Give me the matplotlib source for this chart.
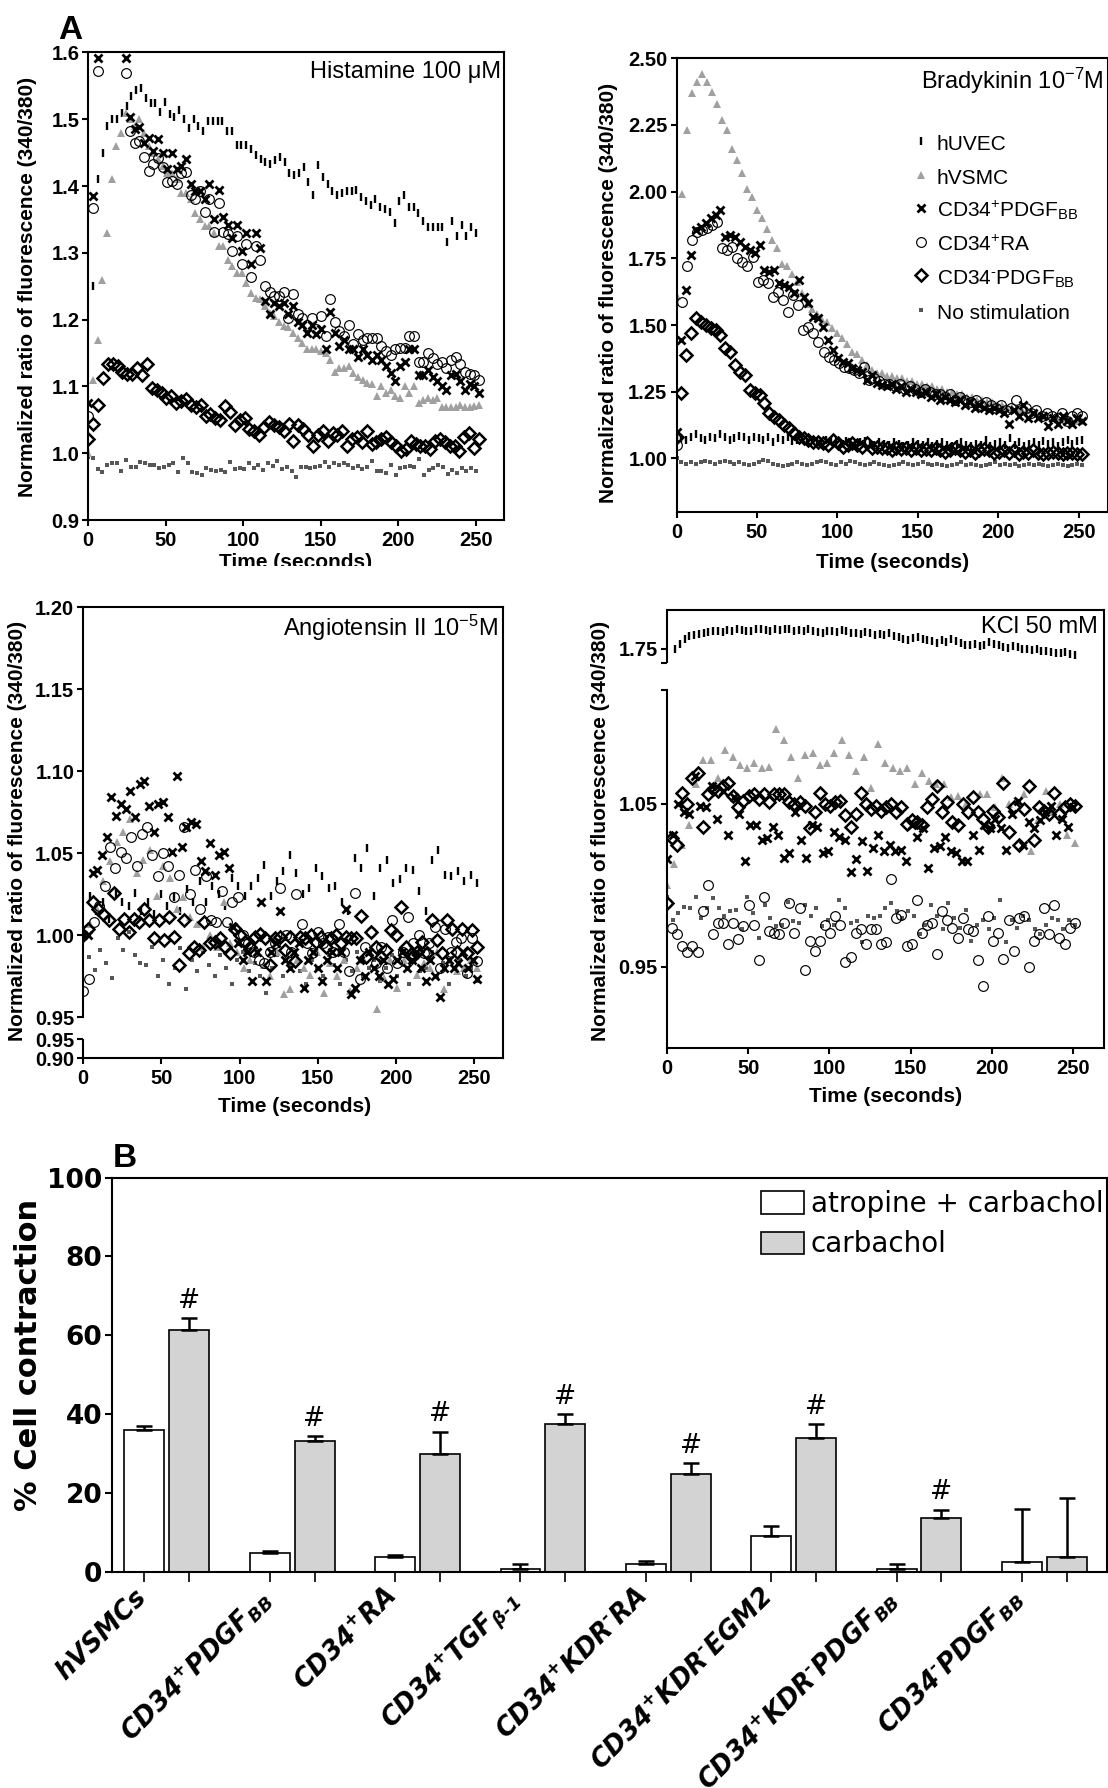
#!/usr/bin/env python3
"""Calcium response traces (panel A) and carbachol contraction bars (panel B)."""

import numpy as np
import matplotlib
matplotlib.use("Agg")
import matplotlib.pyplot as plt
from matplotlib.lines import Line2D
from matplotlib.patches import Patch, Rectangle
from matplotlib.transforms import ScaledTranslation

plt.rcParams['font.family'] = ['Liberation Sans', 'DejaVu Sans']
plt.rcParams['mathtext.default'] = 'regular'

W, H = 1108, 1788

# ---------------- panel A data (normalized 340/380 ratio) ----------------
# Histamine 100 uM
hist_huvec = [1.00, 1.25, 1.41, 1.45, 1.49, 1.50, 1.50, 1.51, 1.52,
              1.535, 1.544, 1.547, 1.532, 1.525, 1.524, 1.511, 1.526, 1.508, 1.504,
              1.514, 1.50, 1.487, 1.50, 1.49, 1.483, 1.497, 1.497, 1.497, 1.497,
              1.483, 1.482, 1.461, 1.461, 1.461, 1.456, 1.447, 1.44, 1.436, 1.433,
              1.439, 1.444, 1.436, 1.419, 1.417, 1.42, 1.428, 1.406, 1.386, 1.431,
              1.413, 1.403, 1.392, 1.386, 1.389, 1.392, 1.392, 1.394, 1.383, 1.378,
              1.372, 1.381, 1.369, 1.365, 1.361, 1.344, 1.378, 1.386, 1.369, 1.369,
              1.36, 1.347, 1.339, 1.339, 1.339, 1.339, 1.317, 1.348, 1.325, 1.341,
              1.325, 1.339, 1.329]
hist_hvsmc = [1.00, 1.11, 1.17, 1.26, 1.33, 1.41, 1.46, 1.48, 1.51, 1.50,
              1.49, 1.50, 1.48, 1.46, 1.45, 1.44, 1.43, 1.42, 1.42, 1.41,
              1.39, 1.39, 1.38, 1.36, 1.35, 1.34, 1.34, 1.33, 1.31, 1.31,
              1.29, 1.28, 1.27, 1.27, 1.255, 1.24, 1.232, 1.231, 1.22, 1.21,
              1.205, 1.197, 1.19, 1.189, 1.18, 1.172, 1.165, 1.156, 1.156, 1.156,
              1.153, 1.15, 1.139, 1.122, 1.128, 1.128, 1.131, 1.12, 1.114, 1.11,
              1.105, 1.103, 1.086, 1.10, 1.09, 1.094, 1.085, 1.083, 1.10, 1.09,
              1.10, 1.075, 1.08, 1.083, 1.08, 1.083, 1.069, 1.069, 1.069, 1.069,
              1.072, 1.069, 1.069, 1.07, 1.072]
hist_pdgf = [1.075, 1.385, 1.592, 1.65, 1.66, 1.65, 1.64, 1.62, 1.592, 1.504,
             1.486, 1.489, 1.464, 1.472, 1.453, 1.47, 1.45, 1.425, 1.45, 1.425,
             1.43, 1.44, 1.403, 1.392, 1.392, 1.381, 1.403, 1.35, 1.394, 1.353,
             1.342, 1.322, 1.342, 1.303, 1.33, 1.283, 1.33, 1.308, 1.228, 1.208,
             1.225, 1.22, 1.225, 1.208, 1.22, 1.197, 1.192, 1.18, 1.192, 1.178,
             1.186, 1.156, 1.211, 1.18, 1.161, 1.169, 1.156, 1.156, 1.144, 1.156,
             1.147, 1.139, 1.147, 1.139, 1.131, 1.12, 1.108, 1.131, 1.136, 1.156,
             1.156, 1.117, 1.117, 1.125, 1.114, 1.108, 1.10, 1.094, 1.117, 1.119,
             1.108, 1.094, 1.103, 1.10, 1.09]
hist_ra = [1.055, 1.367, 1.572, 1.63, 1.64, 1.64, 1.63, 1.61, 1.569, 1.483,
           1.464, 1.467, 1.444, 1.422, 1.433, 1.442, 1.428, 1.406, 1.408, 1.403,
           1.419, 1.421, 1.386, 1.381, 1.392, 1.361, 1.381, 1.331, 1.375, 1.331,
           1.328, 1.303, 1.325, 1.283, 1.314, 1.264, 1.311, 1.289, 1.25, 1.242,
           1.236, 1.236, 1.242, 1.203, 1.239, 1.208, 1.203, 1.192, 1.203, 1.186,
           1.206, 1.175, 1.231, 1.197, 1.183, 1.175, 1.192, 1.164, 1.178, 1.169,
           1.172, 1.172, 1.172, 1.161, 1.153, 1.147, 1.156, 1.158, 1.158, 1.175,
           1.175, 1.136, 1.136, 1.15, 1.142, 1.133, 1.136, 1.128, 1.139, 1.144,
           1.133, 1.122, 1.119, 1.117, 1.11]
hist_neg = [1.021, 1.044, 1.072, 1.113, 1.133, 1.133, 1.131, 1.122, 1.119, 1.118,
            1.128, 1.117, 1.133, 1.098, 1.094, 1.09, 1.083, 1.086, 1.075, 1.078,
            1.081, 1.072, 1.069, 1.072, 1.056, 1.058, 1.053, 1.05, 1.071, 1.061,
            1.042, 1.05, 1.053, 1.036, 1.033, 1.028, 1.039, 1.047, 1.042, 1.039,
            1.033, 1.044, 1.019, 1.042, 1.036, 1.028, 1.011, 1.028, 1.033, 1.019,
            1.031, 1.028, 1.033, 1.011, 1.022, 1.025, 1.017, 1.033, 1.014, 1.017,
            1.022, 1.025, 1.017, 1.011, 1.003, 1.006, 1.019, 1.014, 1.011, 1.011,
            1.006, 1.019, 1.022, 1.017, 1.011, 1.011, 1.003, 1.025, 1.031, 1.008, 1.021]
hist_nostim = [0.994, 0.993, 0.976, 0.972, 0.983, 0.986, 0.985, 0.974, 0.99, 0.979,
               0.979, 0.987, 0.986, 0.983, 0.983, 0.978, 0.979, 0.983, 0.986, 0.972,
               0.993, 0.986, 0.972, 0.971, 0.967, 0.978, 0.975, 0.974, 0.975, 0.972,
               0.987, 0.976, 0.978, 0.976, 0.986, 0.978, 0.983, 0.975, 0.986, 0.981,
               0.989, 0.976, 0.98, 0.974, 0.964, 0.979, 0.98, 0.978, 0.979, 0.981,
               0.987, 0.979, 0.986, 0.983, 0.986, 0.983, 0.978, 0.981, 0.976, 0.979,
               0.989, 0.974, 0.974, 0.971, 0.983, 0.967, 0.978, 0.979, 0.981, 0.979,
               0.992, 0.967, 0.975, 0.978, 0.983, 0.979, 0.969, 0.975, 0.971, 0.978,
               0.974, 0.978, 0.974]

# Bradykinin 1e-7 M
brady_huvec = [1.08, 1.075, 1.07, 1.08, 1.09, 1.075, 1.07, 1.08, 1.075, 1.09,
               1.08, 1.07, 1.075, 1.085, 1.08, 1.07, 1.08, 1.075, 1.07, 1.08,
               1.06, 1.075, 1.07, 1.08, 1.065, 1.07, 1.075, 1.06, 1.07, 1.065,
               1.06, 1.07, 1.065, 1.06, 1.055, 1.065, 1.06, 1.05, 1.06, 1.065,
               1.055, 1.05, 1.06, 1.055, 1.05, 1.06, 1.055, 1.045, 1.05, 1.06,
               1.055, 1.05, 1.06, 1.045, 1.055, 1.06, 1.05, 1.045, 1.055, 1.06,
               1.05, 1.045, 1.055, 1.05, 1.07, 1.045, 1.055, 1.06, 1.05, 1.075,
               1.05, 1.06, 1.045, 1.055, 1.06, 1.05, 1.065, 1.055, 1.06, 1.045,
               1.06, 1.07, 1.055, 1.065, 1.07]
brady_hvsmc = [1.61, 1.99, 2.23, 2.37, 2.41, 2.44, 2.41, 2.375, 2.33, 2.27,
               2.23, 2.16, 2.12, 2.07, 2.01, 1.98, 1.93, 1.90, 1.86, 1.82,
               1.79, 1.73, 1.72, 1.69, 1.66, 1.62, 1.58, 1.56, 1.54, 1.52,
               1.51, 1.49, 1.47, 1.45, 1.43, 1.40, 1.39, 1.37, 1.35, 1.33,
               1.32, 1.32, 1.31, 1.31, 1.30, 1.30, 1.29, 1.29, 1.28, 1.28,
               1.27, 1.27, 1.26, 1.26, 1.25, 1.25, 1.24, 1.24, 1.23, 1.23,
               1.22, 1.22, 1.21, 1.21, 1.20, 1.20, 1.19, 1.19, 1.19, 1.18,
               1.18, 1.17, 1.17, 1.16, 1.16, 1.16, 1.15, 1.15, 1.15, 1.14,
               1.14, 1.14]
brady_pdgf = [1.10, 1.444, 1.631, 1.763, 1.856, 1.869, 1.881, 1.90, 1.913, 1.931,
              1.831, 1.838, 1.831, 1.813, 1.794, 1.781, 1.769, 1.80, 1.706, 1.70,
              1.706, 1.656, 1.65, 1.644, 1.619, 1.669, 1.606, 1.581, 1.531, 1.525,
              1.494, 1.444, 1.406, 1.375, 1.363, 1.356, 1.338, 1.331, 1.325, 1.294,
              1.313, 1.281, 1.275, 1.27, 1.28, 1.26, 1.27, 1.25, 1.26, 1.25,
              1.24, 1.25, 1.23, 1.24, 1.22, 1.23, 1.22, 1.21, 1.22, 1.20,
              1.21, 1.19, 1.20, 1.19, 1.18, 1.19, 1.18, 1.17, 1.13, 1.18,
              1.16, 1.20, 1.15, 1.17, 1.15, 1.16, 1.12, 1.15, 1.13, 1.16,
              1.14, 1.13, 1.15, 1.14]
brady_ra = [1.05, 1.588, 1.72, 1.82, 1.85, 1.856, 1.863, 1.875, 1.888, 1.788,
            1.78, 1.794, 1.75, 1.738, 1.72, 1.756, 1.663, 1.669, 1.656, 1.606,
            1.625, 1.594, 1.55, 1.613, 1.575, 1.48, 1.494, 1.469, 1.438, 1.40,
            1.381, 1.369, 1.356, 1.344, 1.338, 1.331, 1.319, 1.344, 1.294, 1.30,
            1.29, 1.28, 1.28, 1.27, 1.28, 1.26, 1.27, 1.26, 1.25, 1.26,
            1.25, 1.24, 1.24, 1.23, 1.24, 1.22, 1.23, 1.22, 1.21, 1.22,
            1.20, 1.21, 1.20, 1.19, 1.20, 1.18, 1.19, 1.22, 1.18, 1.19,
            1.17, 1.18, 1.16, 1.17, 1.16, 1.15, 1.17, 1.14, 1.16, 1.17, 1.16]
brady_neg = [1.08, 1.244, 1.388, 1.469, 1.525, 1.513, 1.50, 1.488, 1.481, 1.463,
             1.413, 1.40, 1.35, 1.325, 1.313, 1.256, 1.244, 1.238, 1.206, 1.169,
             1.156, 1.144, 1.125, 1.113, 1.094, 1.081, 1.075, 1.069, 1.063, 1.063,
             1.056, 1.05, 1.069, 1.056, 1.044, 1.05, 1.056, 1.05, 1.044, 1.056,
             1.038, 1.044, 1.038, 1.04, 1.03, 1.04, 1.035, 1.04, 1.03, 1.04,
             1.03, 1.035, 1.03, 1.04, 1.03, 1.025, 1.03, 1.04, 1.03, 1.025,
             1.03, 1.02, 1.03, 1.035, 1.03, 1.02, 1.025, 1.03, 1.02, 1.03,
             1.015, 1.025, 1.02, 1.03, 1.02, 1.015, 1.02, 1.025, 1.02, 1.015,
             1.02, 1.02, 1.015, 1.015]
brady_nostim = [1.00, 0.985, 0.98, 0.985, 0.98, 0.985, 0.99, 0.985, 0.98, 0.985,
                0.99, 0.985, 0.98, 0.985, 0.98, 0.975, 0.98, 0.985, 0.995, 0.99,
                0.98, 0.975, 0.97, 0.975, 0.98, 0.985, 0.98, 0.975, 0.98, 0.985,
                0.99, 0.985, 0.98, 0.975, 0.985, 0.98, 0.99, 0.985, 0.98, 0.975,
                0.98, 0.985, 0.98, 0.975, 0.97, 0.975, 0.98, 0.985, 0.98, 0.975,
                0.98, 0.985, 0.98, 0.975, 0.98, 0.975, 0.97, 0.975, 0.98, 0.985,
                0.975, 0.98, 0.975, 0.97, 0.975, 0.98, 0.985, 0.975, 0.98, 0.975,
                0.98, 0.97, 0.975, 0.98, 0.975, 0.98, 0.975, 0.97, 0.975, 0.98,
                0.975, 0.97, 0.975, 0.98, 0.975]

# Angiotensin II 1e-5 M
ang_huvec = [1.00, 1.024, 1.015, 1.02, 1.01, 1.025, 1.02, 1.018, 1.026, 1.015,
             1.02, 1.013, 1.025, 1.018, 1.023, 1.015, 1.028, 1.02, 1.033, 1.02,
             1.03, 1.025, 1.018, 1.035, 1.03, 1.024, 1.03, 1.035, 1.043, 1.024,
             1.033, 1.039, 1.049, 1.038, 1.025, 1.029, 1.041, 1.036, 1.029, 1.03,
             1.02, 1.015, 1.047, 1.041, 1.053, 1.024, 1.041, 1.046, 1.032, 1.034,
             1.041, 1.04, 1.027, 1.015, 1.046, 1.052, 1.037, 1.036, 1.039, 1.033,
             1.037, 1.032]
ang_hvsmc = [1.00, 1.007, 1.016, 1.033, 1.045, 1.057, 1.063, 1.071, 1.038, 1.046,
             1.052, 1.024, 1.042, 1.035, 1.016, 1.023, 1.011, 1.007, 0.993, 1.00,
             0.993, 1.02, 0.995, 0.99, 0.98, 0.985, 0.99, 0.982, 0.975, 0.99,
             0.964, 0.967, 0.985, 0.98, 0.976, 0.99, 0.965, 0.983, 0.975, 0.985,
             0.966, 0.98, 0.985, 0.99, 0.955, 0.974, 0.985, 0.968, 0.985, 0.99,
             0.976, 0.983, 0.98, 0.99, 0.967, 0.985, 0.978, 0.98, 0.985, 0.98]
ang_pdgf = [1.00, 1.00, 1.038, 1.04, 1.049, 1.06, 1.084, 1.073, 1.08, 1.077,
            1.088, 1.072, 1.092, 1.094, 1.079, 1.063, 1.08, 1.081, 1.072, 1.051,
            1.097, 1.054, 1.066, 1.069, 1.068, 1.045, 1.039, 1.056, 1.037, 1.049,
            1.051, 1.041, 1.005, 0.995, 0.985, 0.99, 0.972, 0.99, 1.02, 0.972,
            0.99, 0.995, 1.015, 0.985, 0.98, 0.99, 0.995, 0.968, 0.985, 0.99,
            0.98, 0.972, 0.985, 0.99, 0.98, 0.99, 1.016, 0.964, 0.968, 0.985,
            0.975, 0.99, 0.98, 0.975, 0.985, 0.97, 0.973, 0.985, 0.99, 0.98,
            0.985, 0.99, 0.98, 0.972, 0.985, 0.975, 0.962, 0.98, 0.985, 0.98,
            0.983, 0.99, 0.98, 0.985, 0.973]
ang_ra = [0.966, 0.973, 1.008, 1.018, 1.03, 1.054, 1.041, 1.051, 1.047, 1.06,
          1.042, 1.062, 1.066, 1.049, 1.036, 1.05, 1.042, 1.023, 1.037, 1.066,
          1.025, 1.04, 1.016, 1.036, 1.009, 1.008, 1.027, 1.008, 1.02, 1.023,
          1.00, 0.995, 0.99, 0.985, 0.983, 0.99, 0.995, 1.029, 1.0, 0.99,
          1.025, 1.007, 0.995, 0.989, 1.002, 0.995, 0.999, 0.99, 1.007, 0.99,
          0.978, 1.026, 0.973, 0.993, 1.002, 0.983, 0.993, 0.98, 1.009, 0.983,
          0.99, 1.011, 0.995, 1.00, 0.989, 0.995, 1.005, 0.98, 1.004, 0.99,
          0.996, 0.998, 0.977, 0.998, 0.984]
ang_neg = [1.00, 1.004, 1.02, 1.016, 1.013, 1.009, 1.026, 1.004, 1.01, 1.002,
           1.01, 1.008, 1.016, 1.009, 0.998, 1.009, 0.997, 1.011, 0.999, 0.982,
           1.009, 0.989, 0.993, 0.991, 1.008, 0.995, 0.996, 0.998, 0.993, 0.989,
           1.004, 1.00, 0.996, 0.993, 0.999, 1.001, 0.998, 0.982, 0.998, 0.999,
           0.991, 0.999, 0.984, 0.999, 0.998, 1.00, 0.996, 0.999, 0.993, 0.998,
           1.00, 0.995, 0.999, 0.998, 0.998, 1.012, 0.987, 1.002, 0.993, 0.987,
           0.991, 1.003, 1.00, 1.017, 0.993, 0.987, 0.99, 0.996, 0.989, 1.009,
           0.997, 0.989, 1.009, 1.004, 0.99, 1.004, 0.989, 1.003, 0.993]
ang_nostim = [1.00, 0.987, 0.979, 0.991, 0.983, 0.974, 0.998, 0.991, 1.002, 0.988,
              0.983, 0.982, 0.993, 0.975, 0.985, 0.97, 0.98, 0.992, 0.967, 0.985,
              0.978, 0.99, 0.982, 0.975, 0.988, 0.98, 0.97, 0.985, 0.99, 0.978,
              0.983, 0.975, 0.965, 0.98, 0.988, 0.975, 0.982, 0.99, 0.978, 0.97,
              0.985, 0.98, 0.975, 0.988, 0.982, 0.97, 0.985, 0.978, 0.99, 0.975,
              0.98, 0.985, 0.972, 0.98, 0.988, 0.975, 0.982, 0.97, 0.985, 0.978,
              0.98, 0.99, 0.975, 0.983, 0.97, 0.98, 0.985, 0.975, 0.98, 0.972]

# KCl 50 mM
kcl_huvec = [1.7496, 1.7530, 1.7561, 1.7577, 1.7585, 1.7591, 1.7598, 1.7602, 1.7606, 1.7610,
             1.7602, 1.7614, 1.7606, 1.7618, 1.7614, 1.7610, 1.7606, 1.7618, 1.7622, 1.7614,
             1.7610, 1.7618, 1.7614, 1.7622, 1.7618, 1.7610, 1.7614, 1.7606, 1.7618, 1.7610,
             1.7602, 1.7598, 1.7610, 1.7606, 1.7602, 1.7614, 1.7606, 1.7598, 1.7593, 1.7589,
             1.7602, 1.7593, 1.7585, 1.7589, 1.7581, 1.7593, 1.7577, 1.7569, 1.7561, 1.7553,
             1.7565, 1.7569, 1.7561, 1.7553, 1.7545, 1.7537, 1.7553, 1.7541, 1.7561, 1.7545,
             1.7533, 1.7524, 1.7520, 1.7528, 1.7516, 1.7524, 1.7541, 1.7528, 1.7520, 1.7512,
             1.7504, 1.7516, 1.7508, 1.7500, 1.7496, 1.7492, 1.7500, 1.7488, 1.7484, 1.7480,
             1.7476, 1.7472, 1.7480, 1.7467, 1.7463]
kcl_hvsmc = [1.00, 1.013, 1.025, 1.037, 1.062, 1.077, 1.077, 1.066, 1.083, 1.079,
             1.074, 1.072, 1.075, 1.072, 1.073, 1.096, 1.089, 1.079, 1.066, 1.08,
             1.081, 1.074, 1.075, 1.081, 1.089, 1.08, 1.07, 1.079, 1.06, 1.087,
             1.075, 1.072, 1.07, 1.072, 1.062, 1.069, 1.064, 1.062, 1.062, 1.054,
             1.055, 1.05, 1.045, 1.056, 1.056, 1.048, 1.066, 1.05, 1.052, 1.056,
             1.021, 1.04, 1.058, 1.045, 1.05, 1.031, 1.026]
kcl_pdgf = [1.016, 1.031, 1.05, 1.045, 1.044, 1.067, 1.049, 1.048, 1.061, 1.041,
            1.058, 1.031, 1.054, 1.044, 1.015, 1.037, 1.037, 1.028, 1.029, 1.036,
            1.031, 1.017, 1.02, 1.045, 1.028, 1.017, 1.037, 1.036, 1.02, 1.021,
            1.033, 1.03, 1.028, 1.008, 1.016, 1.027, 1.009, 1.023, 1.031, 1.021,
            1.025, 1.021, 1.022, 1.015, 1.037, 1.03, 1.035, 1.011, 1.023, 1.024,
            1.03, 1.021, 1.02, 1.015, 1.015, 1.031, 1.022, 1.037, 1.035, 1.041,
            1.035, 1.022, 1.044, 1.052, 1.025, 1.039, 1.035, 1.04, 1.045, 1.049,
            1.031, 1.041, 1.036, 1.048]
kcl_ra = [0.989, 0.974, 0.970, 0.963, 0.959, 0.963, 0.959, 0.984, 1.0, 0.97,
          0.977, 0.977, 0.964, 0.977, 0.967, 0.975, 0.988, 0.976, 0.954, 0.993,
          0.972, 0.971, 0.97, 0.977, 0.989, 0.971, 0.986, 0.948, 0.966, 0.96,
          0.966, 0.976, 0.971, 0.981, 0.976, 0.953, 0.956, 0.971, 0.973, 0.964,
          0.973, 0.973, 0.964, 0.965, 1.004, 0.98, 0.982, 0.963, 0.964, 0.991,
          0.971, 0.976, 0.977, 0.958, 0.984, 0.979, 0.974, 0.968, 0.98, 0.973,
          0.972, 0.954, 0.938, 0.981, 0.966, 0.971, 0.955, 0.979, 0.96, 0.98,
          0.981, 0.95, 0.966, 0.97, 0.986, 0.97, 0.988, 0.968, 0.964, 0.974, 0.977]
kcl_neg = [0.989, 1.029, 1.025, 1.057, 1.05, 1.066, 1.069, 1.036, 1.056, 1.059,
           1.058, 1.061, 1.063, 1.055, 1.048, 1.052, 1.055, 1.056, 1.053, 1.056,
           1.051, 1.056, 1.056, 1.056, 1.051, 1.05, 1.051, 1.049, 1.035, 1.045,
           1.057, 1.05, 1.049, 1.051, 1.052, 1.043, 1.036, 1.044, 1.057, 1.05,
           1.047, 1.049, 1.046, 1.048, 1.05, 1.045, 1.048, 1.038, 1.04, 1.039,
           1.037, 1.048, 1.053, 1.061, 1.045, 1.051, 1.039, 1.037, 1.05, 1.045,
           1.054, 1.045, 1.041, 1.036, 1.046, 1.042, 1.063, 1.033, 1.048, 1.025,
           1.047, 1.061, 1.028, 1.048, 1.046, 1.044, 1.057, 1.044, 1.048, 1.05, 1.049]
kcl_nostim = [0.993, 0.979, 0.983, 0.987, 0.986, 0.993, 0.98, 0.986, 0.992, 0.986,
              0.981, 0.984, 0.985, 0.973, 0.993, 0.983, 0.968, 0.988, 0.98, 0.975,
              0.976, 0.99, 0.978, 0.977, 0.988, 0.981, 0.986, 0.975, 0.979, 0.976,
              0.991, 0.986, 0.977, 0.978, 0.965, 0.981, 0.98, 0.981, 0.986, 0.989,
              0.984, 0.98, 0.984, 0.981, 0.97, 0.976, 0.988, 0.981, 0.973, 0.989,
              0.98, 0.974, 0.985, 0.966, 0.976, 0.979, 0.973, 0.98, 0.991, 0.965,
              0.979, 0.974, 0.981, 0.979, 0.973, 0.97, 0.976, 0.98, 0.979, 0.973,
              0.979, 0.976]

legend_labels = ['hUVEC', 'hVSMC', r'CD34$^{+}$PDGF$_{BB}$', r'CD34$^{+}$RA',
                 r'CD34$^{‐}$PDGF$_{BB}$', 'No stimulation']

# ---------------- panel B data (% cell contraction) ----------------
groups = ['hVSMCs', r'CD34$^{+}$PDGF$_{BB}$', r'CD34$^{+}$RA', r'CD34$^{+}$TGF$_{β‐1}$',
          r'CD34$^{+}$KDR$^{‐}$RA', r'CD34$^{+}$KDR$^{‐}$EGM2',
          r'CD34$^{+}$KDR$^{‐}$PDGF$_{BB}$', r'CD34$^{‐}$PDGF$_{BB}$']
atropine = [36.0, 4.6, 3.8, 0.6, 1.8, 9.1, 0.6, 2.5]
atropine_err = [1.0, 0.5, 0.4, 1.2, 0.9, 2.4, 1.2, 13.4]
carbachol = [61.2, 33.1, 29.7, 37.4, 24.7, 33.8, 13.7, 3.6]
carbachol_err = [3.2, 1.3, 5.8, 2.6, 2.8, 3.7, 2.0, 15.1]
significant = [True, True, True, True, True, True, True, False]

# ---------------- styles ----------------
STYLE = {
    'huvec': dict(marker='|', ms=5.5, mew=1.7, color='black'),
    'hvsmc': dict(marker='^', ms=5.2, mew=0, color='#a0a0a0'),
    'pdgf': dict(marker='x', ms=6.2, mew=2.0, color='black'),
    'ra': dict(marker='o', ms=7.0, mew=0.85, mfc='none', mec='black'),
    'neg': dict(marker='D', ms=5.7, mew=1.8, mfc='none', mec='black'),
    'nostim': dict(marker='s', ms=3.4, mew=0, color='#575757'),
}
ORDER = ['nostim', 'huvec', 'hvsmc', 'ra', 'pdgf', 'neg']
LEG_ORDER = ['huvec', 'hvsmc', 'pdgf', 'ra', 'neg', 'nostim']


def box(left, top, right, bottom):
    return [left / W, 1 - bottom / H, (right - left) / W, (bottom - top) / H]


def times(vals, start=0.0, stop=252.0):
    return np.linspace(start, stop, len(vals))


def trace_axes(fig, rect, xmax):
    ax = fig.add_axes(box(*rect))
    for sp in ax.spines.values():
        sp.set_linewidth(1.5)
    ax.tick_params(direction='out', length=4, width=1.5, labelsize=14.5)
    ax.tick_params(axis='y', pad=2.5)
    ax.tick_params(axis='x', pad=4)
    ax.set_xlim(0, xmax)
    ticks = [0, 50, 100, 150, 200, 250]
    ax.set_xticks(ticks, [str(t) for t in ticks], fontweight='bold')
    return ax


def draw_series(ax, series, spans=None):
    spans = spans or {}
    for key in ORDER:
        vals = series[key]
        start, stop = spans.get(key, (0.0, 252.0))
        ax.plot(times(vals, start, stop), vals, linestyle='none', **STYLE[key])


def title(ax, text, rect, dx, dy):
    wpx, hpx = rect[2] - rect[0], rect[3] - rect[1]
    ax.text(1 - dx / wpx, 1 - dy / hpx, text, transform=ax.transAxes,
            ha='right', va='top', fontsize=17)


fig = plt.figure(figsize=(W / 100, H / 100), dpi=100)
fig.patch.set_facecolor('white')

label_kw = dict(fontsize=15, fontweight='bold', ha='center', va='center')

# ---- Histamine ----
r1 = (88.3, 52.5, 504.3, 520.0)
ax1 = trace_axes(fig, r1, 268.3)
ax1.set_ylim(0.9, 1.6)
yt = [0.9, 1.0, 1.1, 1.2, 1.3, 1.4, 1.5, 1.6]
ax1.set_yticks(yt, ['%.1f' % v for v in yt], fontweight='bold')
draw_series(ax1, dict(huvec=hist_huvec, hvsmc=hist_hvsmc, pdgf=hist_pdgf,
                      ra=hist_ra, neg=hist_neg, nostim=hist_nostim),
            spans=dict(huvec=(0, 250), nostim=(0, 250)))
title(ax1, 'Histamine 100 μM', r1, 3, 9)
fig.text(27.7 / W, 1 - 287 / H, 'Normalized ratio of fluorescence (340/380)',
         rotation=90, **label_kw)
fig.text(296 / W, 1 - 563 / H, 'Time (seconds)', **label_kw)

# ---- Bradykinin ----
r2 = (676.5, 58.3, 1107.7, 511.7)
ax2 = trace_axes(fig, r2, 267.9)
ax2.set_ylim(0.8, 2.5)
yt = [1.0, 1.25, 1.5, 1.75, 2.0, 2.25, 2.5]
ax2.set_yticks(yt, ['%.2f' % v for v in yt], fontweight='bold')
draw_series(ax2, dict(huvec=brady_huvec, hvsmc=brady_hvsmc, pdgf=brady_pdgf,
                      ra=brady_ra, neg=brady_neg, nostim=brady_nostim))
title(ax2, r'Bradykinin 10$^{-7}$M', r2, 4, 8)
handles = [Line2D([], [], linestyle='none', **STYLE[k]) for k in LEG_ORDER]
ax2.legend(handles, legend_labels, loc='upper left',
           bbox_to_anchor=(913 / W, 1 - 132 / H), bbox_transform=fig.transFigure,
           frameon=False, fontsize=15, handlelength=0.8, handleheight=1.3,
           handletextpad=0.35, labelspacing=0.51, borderpad=0, borderaxespad=0)
fig.text(609 / W, 1 - 293 / H, 'Normalized ratio of fluorescence (340/380)',
         rotation=90, **label_kw)
fig.text(893 / W, 1 - 562 / H, 'Time (seconds)', **label_kw)


# ---- Angiotensin II (broken y axis: 0.90-0.95 | 0.95-1.20) ----
def ang_fwd(y):
    y = np.asarray(y, dtype=float)
    return np.where(y >= 0.95, 41.0 + (y - 0.95) * 1638.0, (y - 0.90) * 380.0)


def ang_inv(u):
    u = np.asarray(u, dtype=float)
    return np.where(u >= 41.0, 0.95 + (u - 41.0) / 1638.0,
                    np.where(u <= 19.0, 0.90 + u / 380.0, 0.95))


r3 = (83.3, 607.3, 503.3, 1058.2)
ax3 = trace_axes(fig, r3, 268.7)
ax3.set_yscale('function', functions=(ang_fwd, ang_inv))
ax3.set_ylim(0.90, 1.20)
yt = [0.90, 0.9499, 0.95, 1.00, 1.05, 1.10, 1.15, 1.20]
ax3.set_yticks(yt, ['0.90', '0.95', '0.95', '1.00', '1.05', '1.10', '1.15', '1.20'],
               fontweight='bold')
ax3.yaxis.set_minor_locator(matplotlib.ticker.NullLocator())
ax3.spines['left'].set_bounds(0.95, 1.20)
ax3.plot([0, 0], [0.90, 0.9499], transform=ax3.get_yaxis_transform(),
         color='black', lw=1.5, clip_on=False, solid_capstyle='butt')
draw_series(ax3, dict(huvec=ang_huvec, hvsmc=ang_hvsmc, pdgf=ang_pdgf,
                      ra=ang_ra, neg=ang_neg, nostim=ang_nostim))
title(ax3, r'Angiotensin II 10$^{-5}$M', r3, 5, 5)
fig.text(17.8 / W, 1 - 831 / H, 'Normalized ratio of fluorescence (340/380)',
         rotation=90, **label_kw)
fig.text(295 / W, 1 - 1106 / H, 'Time (seconds)', **label_kw)


# ---- KCl (broken y axis: 0.90-1.12 | 1.741-top) ----
def kcl_fwd(y):
    y = np.asarray(y, dtype=float)
    return np.where(y <= 1.12, (y - 0.90) * 1629.0,
                    np.where(y >= 1.741, 385.1 + (y - 1.741) * 1629.0,
                             358.4 + (y - 1.12) / 0.621 * 26.7))


def kcl_inv(u):
    u = np.asarray(u, dtype=float)
    return np.where(u <= 358.4, 0.90 + u / 1629.0,
                    np.where(u >= 385.1, 1.741 + (u - 385.1) / 1629.0,
                             1.12 + (u - 358.4) / 26.7 * 0.621))


r4 = (667.0, 610.0, 1103.7, 1048.3)
ax4 = trace_axes(fig, r4, 268.8)
ax4.set_yscale('function', functions=(kcl_fwd, kcl_inv))
ax4.set_ylim(0.90, 1.7737)
ax4.set_yticks([0.95, 1.05, 1.12, 1.741, 1.75], ['0.95', '1.05', '', '', '1.75'],
               fontweight='bold')
ax4.yaxis.set_minor_locator(matplotlib.ticker.NullLocator())
ax4.spines['left'].set_bounds(0.90, 1.12)
ax4.plot([0, 0], [1.741, 1.7737], transform=ax4.get_yaxis_transform(),
         color='black', lw=1.5, clip_on=False, solid_capstyle='butt')
draw_series(ax4, dict(huvec=kcl_huvec, hvsmc=kcl_hvsmc, pdgf=kcl_pdgf,
                      ra=kcl_ra, neg=kcl_neg, nostim=kcl_nostim),
            spans=dict(huvec=(5, 251), pdgf=(0, 250), ra=(0, 251), neg=(0, 251),
                       nostim=(0, 251), hvsmc=(0, 251)))
title(ax4, 'KCl 50 mM', r4, 6, 6)
fig.text(600 / W, 1 - 831 / H, 'Normalized ratio of fluorescence (340/380)',
         rotation=90, **label_kw)
fig.text(886 / W, 1 - 1096 / H, 'Time (seconds)', **label_kw)

# the lower row covers the bottom of the first x label in the original
fig.add_artist(Rectangle((0, 1 - 600 / H), 554 / W, 34 / H, transform=fig.transFigure,
                         facecolor='white', edgecolor='none', zorder=10))

fig.text(58.6 / W, 1 - 38.8 / H, 'A', fontsize=24, fontweight='bold', va='baseline')

# ---------------- panel B ----------------
axb = fig.add_axes(box(111.9, 1177.5, 1107.0, 1571.5))
n = len(groups)
xg = np.arange(n)
bw = 0.319
xw = xg - 0.1786
xc = xg + 0.1786
axb.bar(xw, atropine, width=bw, color='white', edgecolor='black', linewidth=1.2, zorder=2)
axb.bar(xc, carbachol, width=bw, color='#d3d3d3', edgecolor='black', linewidth=1.2, zorder=2)
axb.errorbar(xw, atropine, yerr=[np.zeros(n), atropine_err], fmt='none', ecolor='black',
             elinewidth=1.8, capsize=5.5, capthick=1.8, zorder=3)
axb.errorbar(xc, carbachol, yerr=[np.zeros(n), carbachol_err], fmt='none', ecolor='black',
             elinewidth=1.8, capsize=5.5, capthick=1.8, zorder=3)
for i in range(n):
    if significant[i]:
        axb.annotate('#', (xc[i], carbachol[i] + carbachol_err[i]), xytext=(0, 3),
                     textcoords='offset points', ha='center', va='bottom',
                     fontsize=19, family='DejaVu Sans')
axb.set_xlim(-0.438, 7.5)
axb.set_ylim(0, 100)
for sp in axb.spines.values():
    sp.set_linewidth(1.5)
axb.set_yticks([0, 20, 40, 60, 80, 100], ['0', '20', '40', '60', '80', '100'],
               fontsize=19, fontweight='bold', family='DejaVu Sans')
axb.tick_params(axis='y', length=5, width=1.5, pad=2)
axb.set_xticks(np.concatenate([xw, xc]), minor=True)
axb.tick_params(axis='x', which='minor', length=7, width=1.2, direction='out')
axb.set_xticks(xg, groups, rotation=45, ha='right', fontsize=18.5, fontweight='bold',
               fontstyle='italic', family='DejaVu Sans')
axb.tick_params(axis='x', which='major', length=0, pad=9)
shift = ScaledTranslation(-0.15, 0, fig.dpi_scale_trans)
for lab in axb.get_xticklabels():
    lab.set_transform(lab.get_transform() + shift)
axb.legend([Patch(facecolor='white', edgecolor='black', lw=1.2),
            Patch(facecolor='#d3d3d3', edgecolor='black', lw=1.2)],
           ['atropine + carbachol', 'carbachol'], loc='upper left',
           bbox_to_anchor=(761 / W, 1 - 1190 / H), bbox_transform=fig.transFigure,
           frameon=False, prop={'family': 'DejaVu Sans', 'size': 20},
           handlelength=1.55, handleheight=0.87, handletextpad=0.25,
           labelspacing=0.45, borderpad=0, borderaxespad=0)
fig.text(28.5 / W, 1 - 1354.5 / H, '% Cell contraction', rotation=90, ha='center',
         va='center', fontsize=22, fontweight='bold', family='DejaVu Sans')
fig.text(113 / W, 1 - 1167 / H, 'B', fontsize=24, fontweight='bold', va='baseline')

fig.savefig('out.png', dpi=100)
